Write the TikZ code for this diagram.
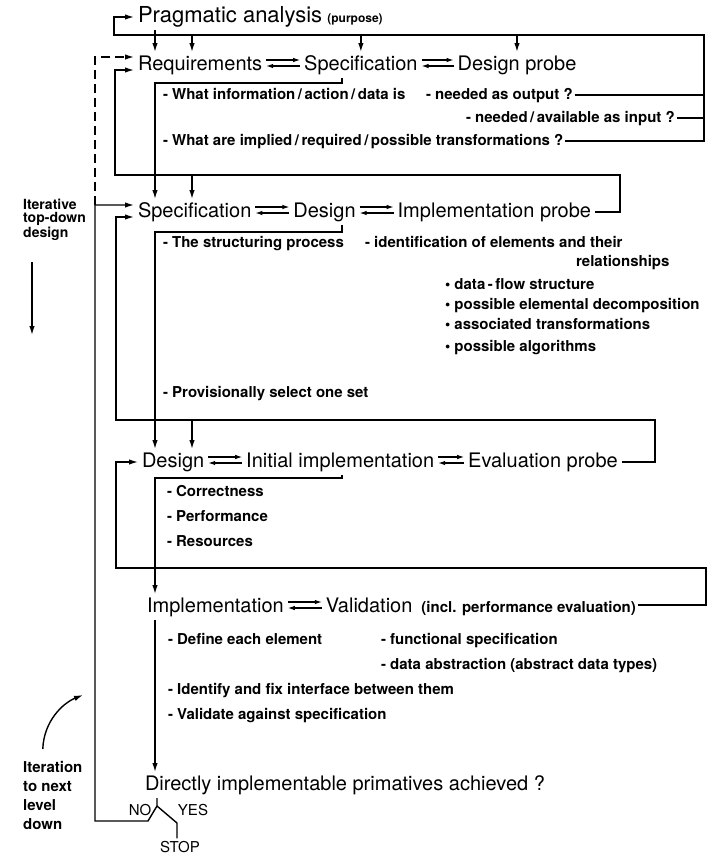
\documentclass[tikz,border=0pt]{standalone}
\usepackage{fontspec}
\setmainfont{TeX Gyre Heros}
\usetikzlibrary{arrows.meta, positioning}

\tikzset{
  rowtitle/.style={font=\fontsize{20}{24}\selectfont, inner sep=0pt, outer sep=4pt,
    text height=14pt, text depth=4pt},
  note/.style={font=\fontsize{15}{18}\selectfont\bfseries, inner sep=0pt, outer sep=2pt,
    text height=11pt, text depth=3pt, anchor=west},
  sidenote/.style={font=\fontsize{14}{13}\selectfont\bfseries, inner sep=0pt,
    align=left, anchor=north west},
  answer/.style={font=\fontsize{15}{18}\selectfont, inner sep=0pt, outer sep=3pt},
  flow/.style={line width=1.4pt, -{Latex[length=9pt,width=5.5pt]}},
  link/.style={line width=1.4pt},
  harp/.style={line width=1.1pt, -{Latex[length=7pt,width=4.5pt]}},
  loopdash/.style={flow, dash pattern=on 9pt off 5pt}
}

\begin{document}
\begin{tikzpicture}[x=1pt, y=-1pt]
    \useasboundingbox (0,0) rectangle (726,854);
    \coordinate (colA) at (155,0);
    \coordinate (colB) at (192,0);
    \coordinate (colT) at (342,0);

    % level 0 and 1
    \node[rowtitle, font=\fontsize{22}{26}\selectfont, anchor=west] (prag) at (134,17) {Pragmatic analysis};
    \node[font=\fontsize{12}{14}\selectfont\bfseries, inner sep=0pt, anchor=base west]
      (purp) at ([xshift=1pt]prag.base east) {(purpose)};
    \node[rowtitle, anchor=west] (req) at (134,65) {Requirements};
    \node[rowtitle, right=34pt of req] (spec1) {Specification};
    \node[rowtitle, right=32pt of spec1] (dprobe) {Design probe};
    \node[note] (info) at (161,95) {- What information\,/\,action\,/\,data is};
    \node[note] (out1) at (424,95) {- needed as output ?};
    \node[note] (out2) at (464,118) {- needed\,/\,available as input ?};
    \node[note] (trans) at (161,141) {- What are implied\,/\,required\,/\,possible transformations ?};

    % level 2
    \node[rowtitle, anchor=west] (spec2) at (134,212) {Specification};
    \node[rowtitle, right=34pt of spec2] (design2) {Design};
    \node[rowtitle, right=34pt of design2] (iprobe) {Implementation probe};
    \node[note] (struc) at (161,243) {- The structuring process};
    \node[note] (ident) at (363,243) {- identification of elements and their};
    \node[note] (rel) at (574,262) {relationships};
    \node[note] (bul1) at (443,285) {\textbullet\ data\,-\,flow structure};
    \node[note] (bul2) at (443,305) {\textbullet\ possible elemental decomposition};
    \node[note] (bul3) at (443,325) {\textbullet\ associated transformations};
    \node[note] (bul4) at (443,347) {\textbullet\ possible algorithms};
    \node[note] (prov) at (161,393) {- Provisionally select one set};

    % level 3
    \node[rowtitle, anchor=west] (design3) at (138,462) {Design};
    \node[rowtitle, right=34pt of design3] (init3) {Initial implementation};
    \node[rowtitle, right=26pt of init3] (eprobe) {Evaluation probe};
    \node[note] (corr) at (165,492) {- Correctness};
    \node[note] (perf) at (165,517) {- Performance};
    \node[note] (res) at (165,542) {- Resources};

    % level 4
    \node[rowtitle, anchor=west] (impl4) at (143,607) {Implementation};
    \node[rowtitle, right=34pt of impl4] (valid) {Validation};
    \node[note, anchor=base west] (incl4) at ([xshift=3pt]valid.base east)
      {(incl. performance evaluation)};
    \node[note] (def) at (166,640) {- Define each element};
    \node[note] (func) at (379,640) {- functional specification};
    \node[note] (abst) at (379,665) {- data abstraction (abstract data types)};
    \node[note] (ifix) at (166,690) {- Identify and fix interface between them};
    \node[note] (vals) at (166,715) {- Validate against specification};

    \node[rowtitle, anchor=west] (direct) at (141,785) {Directly implementable primatives achieved ?};
    \node[answer] (no) at (140,810) {NO};
    \node[answer] (yes) at (193,810) {YES};
    \node[answer] (stop) at (180,847) {STOP};

    \node[sidenote] (itd) at (23,199) {Iterative\\top-down\\design};
    \node[sidenote, font=\fontsize{15}{19}\selectfont\bfseries] (itn) at (23,761)
      {Iteration\\to next\\level\\down};

    % two-way arrows inside each row
    \foreach \a/\b in {req/spec1, spec1/dprobe, spec2/design2, design2/iprobe,
                       design3/init3, init3/eprobe, impl4/valid}{
      \draw[harp] ([yshift=5pt]\a.east) -- ([yshift=5pt]\b.west);
      \draw[harp] ([yshift=-1pt]\b.west) -- ([yshift=-1pt]\a.east);
    }

    % feedback of level 1
    \coordinate (rt1) at (704,35);
    \coordinate (lt1) at (114,35);
    \draw[link] (out1.east) -- (out1.east -| rt1);
    \draw[link] (out2.east) -- (out2.east -| rt1);
    \draw[flow] (trans.east) -| (rt1) -- (lt1) |- (prag.west);
    \foreach \n in {spec1, dprobe}
      \draw[flow] (lt1 -| \n.north) -- (\n.north);
    \draw[flow] (lt1 -| colB) -- (colB |- req.north);
    \draw[flow] (prag.south -| colA) -- (colA |- req.north);
    \draw[flow] (spec1.south -| colT) -- ++(0,5) -| (colA |- spec2.north);

    % feedback of level 2
    \coordinate (rt2) at (620,175);
    \coordinate (lt2) at (115,175);
    \draw[flow] (iprobe.east) -| (rt2) -- (lt2) |- ([yshift=-5pt]req.west);
    \draw[flow] (lt2 -| colB) -- (colB |- spec2.north);
    \draw[flow] (design2.south -| colT) -- ++(0,7) -| (colA |- design3.north);

    % feedback of level 3
    \coordinate (rt3) at (655,420);
    \coordinate (lt3) at (116,420);
    \draw[flow] (eprobe.east) -| (rt3) -- (lt3) |- ([yshift=-5pt]spec2.west);
    \draw[flow] (lt3 -| colB) -- (colB |- design3.north);
    \draw[flow] (init3.south -| colT) -- ++(0,3) -| (colA |- impl4.north);

    % feedback of level 4
    \coordinate (rt4) at (706,568);
    \coordinate (lt4) at (116,568);
    \draw[flow] ([yshift=3pt]incl4.east) -| (rt4) -- (lt4) |- (design3.west);
    \draw[flow] (impl4.south -| colA) -- (colA |- direct.north);

    % decision and iteration loop
    \coordinate (vtx) at (157,806);
    \coordinate (nofoot) at (148,821);
    \coordinate (yesfoot) at (177,823);
    \coordinate (lpN) at (95,821);
    \draw[flow] (direct.south -| vtx) -- (vtx) -- (nofoot) -- (lpN)
      |- ([yshift=7pt]spec2.west);
    \draw[loopdash] ([yshift=7pt]spec2.west -| lpN) |- ([yshift=8pt]req.west);
    \draw[link] (vtx) -- (yesfoot) -- (yesfoot |- stop.north);

    % side remarks
    \coordinate (itdTip) at (32,335);
    \draw[flow, shorten <=22pt] (itd.south -| itdTip) -- (itdTip);
    \coordinate (itnTip) at (83,695);
    \draw[flow] ([shift={(-10pt,12pt)}]itn.north) .. controls +(1,-28) and +(-20,8) .. (itnTip);
\end{tikzpicture}
\end{document}
